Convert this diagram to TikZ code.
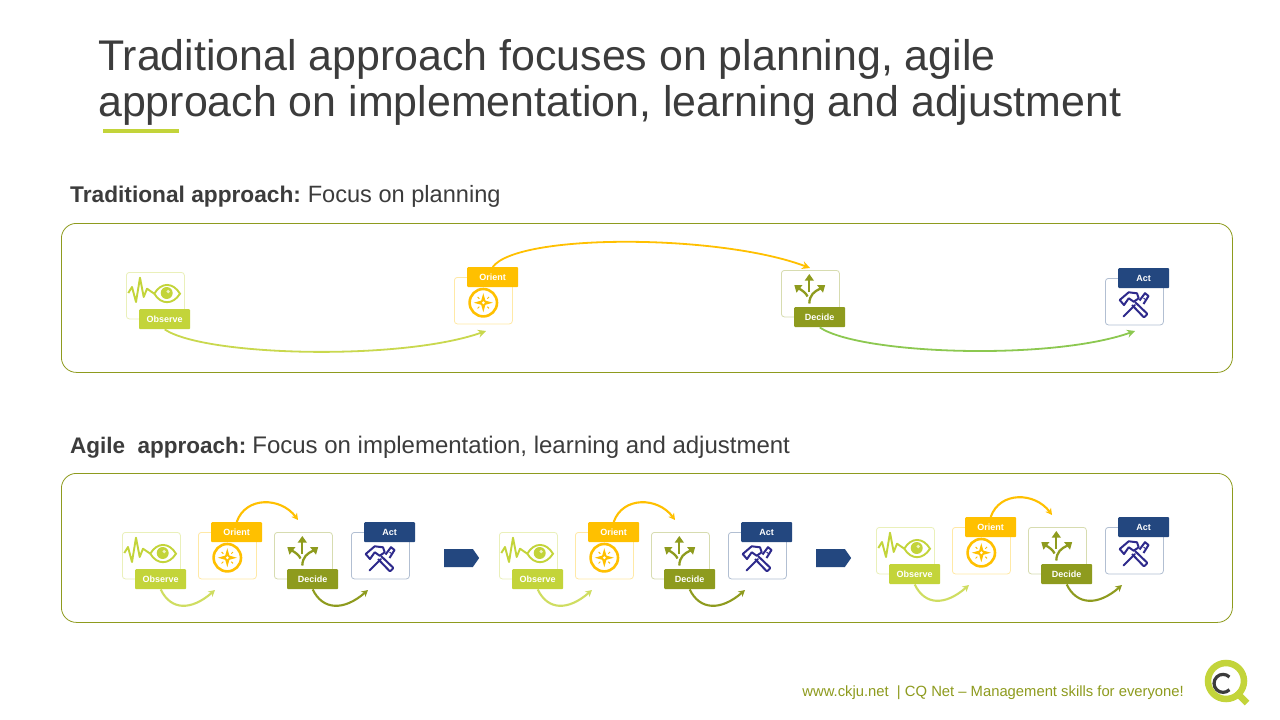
\documentclass[tikz,border=0pt]{standalone}
\usepackage{fontspec}
\setmainfont{Liberation Sans}
\usetikzlibrary{arrows.meta,shapes.arrows}
\definecolor{txt}{HTML}{3C3C3C}
\definecolor{lime}{HTML}{C3D43A}
\definecolor{olive}{HTML}{8E9B1E}
\definecolor{gold}{HTML}{FFC000}
\definecolor{navy}{HTML}{23477F}
\definecolor{indigo}{HTML}{2E2A8C}
\definecolor{leaf}{HTML}{8CC850}
\tikzset{
  cellbox/.style={draw=#1,line width=0.8pt,rounded corners=3pt,minimum width=58pt,minimum height=46.5pt,anchor=north west,inner sep=0pt},
  taglabel/.style={fill=#1,text=white,rounded corners=1pt,minimum width=51pt,minimum height=20pt,anchor=north west,inner sep=0pt,font=\fontsize{9}{9}\selectfont\bfseries},
  flow/.style={draw=#1,line width=1.8pt,-{Stealth[length=8pt,width=8pt]}},
  loopflow/.style={draw=#1,line width=2.1pt,-{Stealth[length=6.5pt,width=7pt]}},
  frame/.style={draw=olive,line width=0.8pt,rounded corners=15pt,minimum width=1171pt,minimum height=149pt,anchor=north west,inner sep=0pt},
  headline/.style={anchor=base west,inner sep=0pt,text=txt,font=\fontsize{#1}{#1}\selectfont},
  nextstep/.style={fill=navy,draw=none,single arrow,single arrow head extend=0pt,single arrow tip angle=110,minimum height=35pt,minimum width=18pt,inner sep=0pt,anchor=center,shape border rotate=0}
}
\newcommand{\obscell}[3]{\begin{scope}[shift={(#2,#3)}]
  \node[cellbox={lime!35}] (#1box) at (0,0) {};
  \draw[lime,line width=1.9pt,line join=round] (2.3,21)--(6,15)--(10,30)--(14,5.7)--(17.7,25)--(21,16.7)--(28.3,21.7);
  \draw[lime,line width=1.9pt] (28.3,21.7) .. controls (35,10) and (47,10) .. (54,21.7) .. controls (47,33) and (35,33) .. (28.3,21.7);
  \fill[lime] (40.7,21) circle (6);
  \fill[white!70!lime] (42.2,19.5) circle (1.8);
  \node[taglabel=lime] (#1tag) at (13,37) {Observe};
\end{scope}}
\newcommand{\oricell}[3]{\begin{scope}[shift={(#2,#3)}]
  \node[cellbox={gold!35}] (#1box) at (0,0) {};
  \draw[gold,line width=2.6pt] (29.3,25.7) circle (13.7);
  \fill[gold] (29.3,16.2)--(31.4,23.6)--(38.8,25.7)--(31.4,27.8)--(29.3,35.2)--(27.2,27.8)--(19.8,25.7)--(27.2,23.6)--cycle;
  \fill[white] (29.3,25.7) circle (1.5);
  \draw[gold,line width=1pt] (23.6,20)--(25.3,21.7) (35,20)--(33.3,21.7) (23.6,31.4)--(25.3,29.7) (35,31.4)--(33.3,29.7);
  \node[taglabel=gold] (#1tag) at (13,-10) {Orient};
\end{scope}}
\newcommand{\deccell}[3]{\begin{scope}[shift={(#2,#3)}]
  \node[cellbox={olive!35}] (#1box) at (0,0) {};
  \draw[olive,line width=2.3pt] (28.3,33.5) .. controls (28.6,25) and (33,21.5) .. (39.5,18.5);
  \draw[olive,line width=2.3pt] (26.5,26.5) .. controls (25,23) and (22,21) .. (18,18.5);
  \draw[olive,line width=2.3pt] (28.3,22) -- (28.3,9);
  \fill[olive] (28.3,4)--(33,10.7)--(23.6,10.7)--cycle;
  \fill[olive] (13.3,15)--(21.5,15)--(15.5,22.7)--cycle;
  \fill[olive] (44.2,15)--(36,15)--(42,22.7)--cycle;
  \node[taglabel=olive] (#1tag) at (13,37) {Decide};
\end{scope}}
\newcommand{\actcell}[3]{\begin{scope}[shift={(#2,#3)}]
  \node[cellbox={navy!35}] (#1box) at (0,0) {};
  \draw[indigo,line width=2pt,line join=round] (14.7,22)--(23.7,14.3)--(32,15.3)--(33.7,20.3)--(28.7,23.7)--(23.7,20.3)--(19,27)--cycle;
  \draw[indigo,line width=2pt,line cap=round] (30,27)--(18.5,38.5);
  \draw[indigo,line width=2pt,line join=round,rounded corners=1pt] (30,24)--(42.5,36)--(39,39.5)--(27,27);
  \draw[indigo,line width=2pt,line join=round] (34.5,22.5)--(40,15.2)--(43.5,18)--(38.5,26);
  \draw[indigo,line width=1pt] (38.5,20)--(41,22);
  \node[taglabel=navy] (#1tag) at (13,-10) {Act};
\end{scope}}
\newcommand{\agilerow}[3]{
  \obscell{#1o}{#2}{#3}
  \oricell{#1r}{\the\numexpr#2+76\relax}{#3}
  \deccell{#1d}{\the\numexpr#2+152\relax}{#3}
  \actcell{#1a}{\the\numexpr#2+229\relax}{#3}
  \begin{scope}[shift={(#2,#3)}]
    \coordinate (#1e1) at (93,58);
    \coordinate (#1e2) at (176,-12);
    \coordinate (#1e3) at (246,58);
  \end{scope}
  \draw[loopflow={lime!80}] (#1otag.south) .. controls +(10,21) and +(-24,21) .. (#1e1);
  \draw[loopflow=gold] (#1rtag.north) .. controls +(9,-26) and +(-17,-23) .. (#1e2);
  \draw[loopflow=olive] (#1dtag.south) .. controls +(10,21) and +(-24,21) .. (#1e3);
}
\begin{document}
\begin{tikzpicture}[x=1pt,y=-1pt]
\useasboundingbox (0,0) rectangle (1280,720);
\fill[white] (0,0) rectangle (1280,720);
\node[headline=42.9] (title1) at (98,70.3) {Traditional approach focuses on planning, agile};
\node[headline=42.9] (title2) at (98,116.3) {approach on implementation, learning and adjustment};
\fill[lime] (103,129) rectangle (179,133);
\node[headline=23.6] (sec1) at (70,202.5) {{\fontsize{22.7}{23}\selectfont\bfseries Traditional approach:}\hspace{-2pt} Focus on planning};
\node[headline=24] (sec2) at (70,453.5) {{\fontsize{22.5}{23}\selectfont\bfseries Agile\ \ approach:}\hspace{-3pt} Focus on implementation, learning and adjustment};
\node[frame] (frame1) at (61,223) {};
\node[frame] (frame2) at (61,473) {};
% traditional
\obscell{to}{126}{272}
\oricell{tr}{454}{277}
\deccell{td}{781}{270}
\actcell{ta}{1105}{278}
\coordinate (te1) at (486,331);
\coordinate (te2) at (810,268);
\coordinate (te3) at (1135,331);
\draw[flow={lime!90}] (totag.south) .. controls +(40,27) and +(-85,30) .. (te1);
\draw[flow=gold] (trtag.north) .. controls +(25,-34) and +(-90,-34) .. (te2);
\draw[flow=leaf] (tdtag.south) .. controls +(40,27) and +(-85,30) .. (te3);
% agile
\agilerow{a}{122}{532}
\agilerow{b}{499}{532}
\agilerow{c}{876}{527}
\node[nextstep] (next1) at (458.5,558) {};
\node[nextstep] (next2) at (830.5,558) {};
% footer
\node[anchor=base east,inner sep=0pt,text=olive,font=\fontsize{14.8}{15}\selectfont] (foot) at (1184,696) {www.ckju.net\ \ | CQ Net -- Management skills for everyone!};
\draw[lime,line width=6.5pt] (1226,681) circle (18);
\draw[lime,line width=6.5pt] (1236,692) -- (1247,703);
\draw[txt,line width=3.2pt] (1229.4,677) arc (-45:-315:9);
\end{tikzpicture}
\end{document}
